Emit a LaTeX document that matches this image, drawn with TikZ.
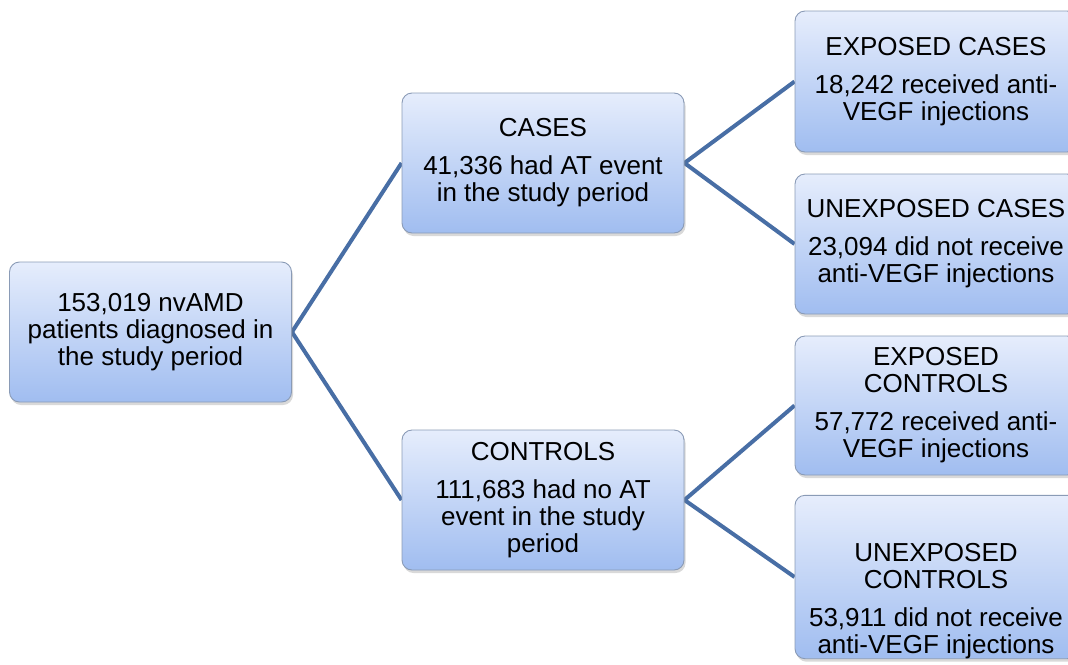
\documentclass[tikz,border=0pt]{standalone}
\usepackage{fontspec}
\setmainfont{Liberation Sans}
\usetikzlibrary{shadows,backgrounds}
\definecolor{boxtop}{RGB}{230,237,252}
\definecolor{boxbot}{RGB}{160,189,240}
\definecolor{boxedge}{RGB}{138,155,182}
\definecolor{linkblue}{RGB}{72,110,165}

\begin{document}
\begin{tikzpicture}[x=1pt, y=-1pt,
    stage/.style={draw=boxedge, line width=0.9pt, rounded corners=10pt,
        top color=boxtop, bottom color=boxbot,
        minimum width=282pt, minimum height=140pt, inner sep=0pt,
        align=center, font=\fontsize{26}{27}\selectfont,
        drop shadow={shadow xshift=1.5pt, shadow yshift=-3pt, opacity=0.3}},
    link/.style={draw=linkblue, line width=4pt, line join=miter}
]
\clip (0,0) rectangle (1068,664);

% Cohort
\node[stage] (cohort) at (150.5,332) {153,019 nvAMD\\patients diagnosed in\\the study period};

% Cases and controls
\node[stage] (cases) at (543,163) {CASES\\[11pt]41,336 had AT event\\in the study period};
\node[stage] (controls) at (543,500) {CONTROLS\\[11pt]111,683 had no AT\\event in the study\\period};

% Exposure groups
\node[stage, minimum height=141pt] (expcases) at (936,81.5) {EXPOSED CASES\\[11pt]18,242 received anti-\\VEGF injections};
\node[stage] (unexpcases) at (936,244) {UNEXPOSED CASES\\[11pt]23,094 did not receive\\anti-VEGF injections};
\node[stage, minimum height=139pt] (expcontrols) at (936,405.5) {EXPOSED\\CONTROLS\\[11pt]57,772 received anti-\\VEGF injections};
\node[stage, minimum height=162pt] (unexpcontrols) at (936,577) {\rule{0pt}{66pt}UNEXPOSED\\CONTROLS\\[11pt]53,911 did not receive\\anti-VEGF injections};

% Links
\begin{scope}[on background layer]
\draw[link] (cases.west) -- (cohort.east) -- (controls.west);
\draw[link] (expcases.west) -- (cases.east) -- (unexpcases.west);
\draw[link] (expcontrols.west) -- (controls.east) -- (unexpcontrols.west);
\end{scope}
\end{tikzpicture}
\end{document}
